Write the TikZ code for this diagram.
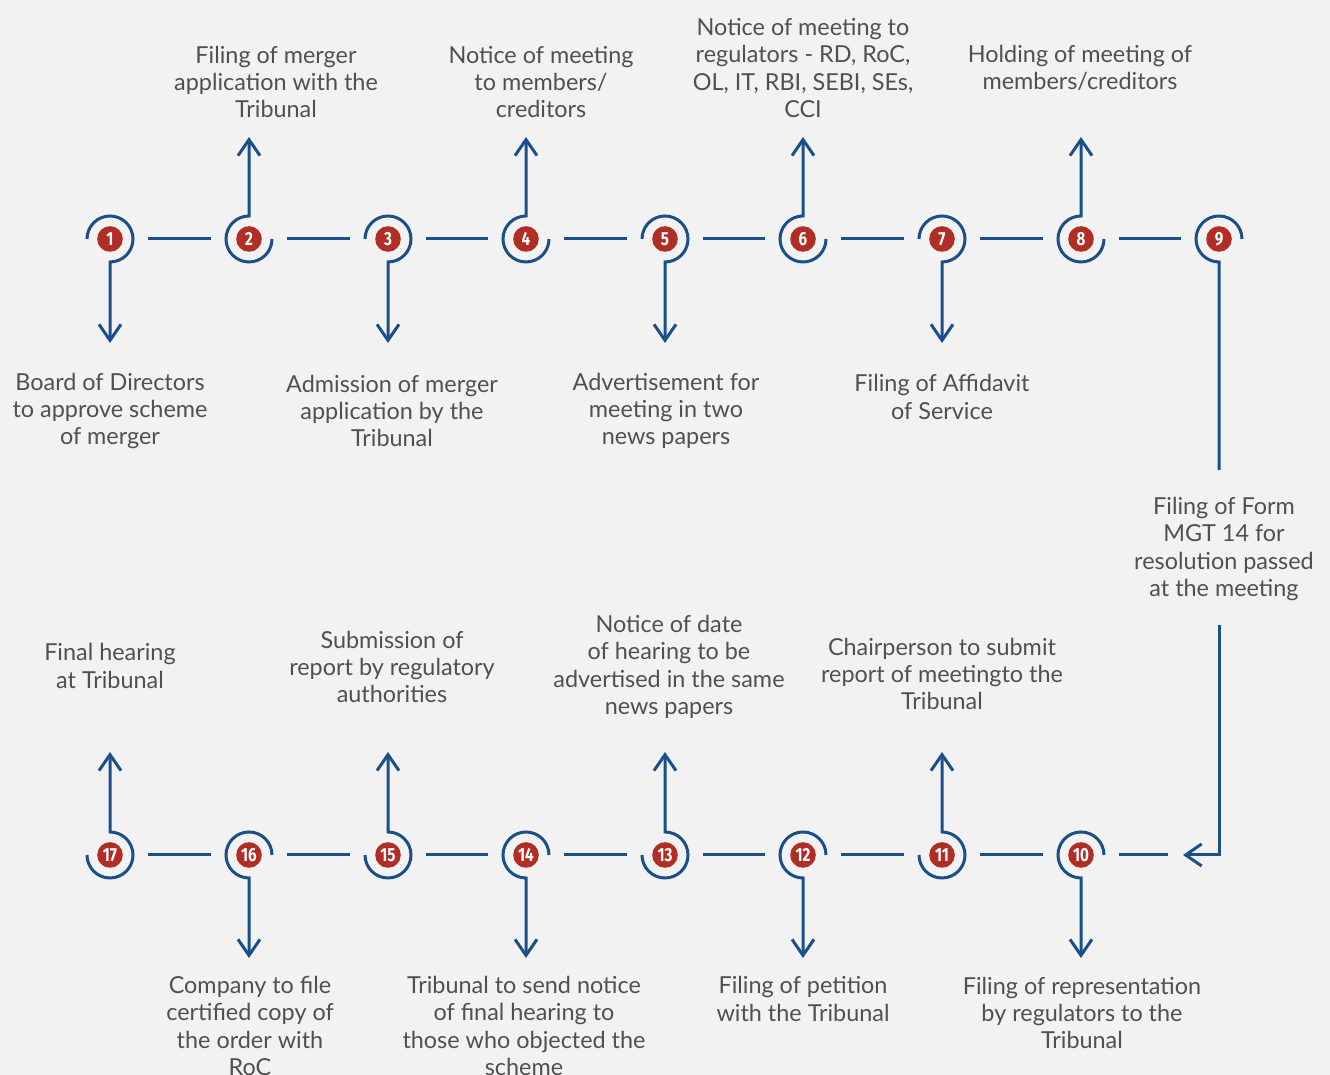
\documentclass[tikz,border=0pt]{standalone}
\usepackage{fontspec}
\setmainfont{Lato}
\newfontfamily\numfont{Fira Sans}[FakeStretch=0.8]
\usetikzlibrary{calc}
\usetikzlibrary{arrows.meta}
\definecolor{lineblue}{HTML}{1B4F8A}
\definecolor{numred}{HTML}{B02E25}
\definecolor{paper}{HTML}{F2F2F2}
\definecolor{txtgray}{HTML}{505050}
\tikzset{
  ring/.style={circle, minimum size=23pt, inner sep=0pt, outer sep=0pt, fill=paper, text=white,
    font=\numfont\bfseries\fontsize{9.5}{9.5}\selectfont,
    path picture={\fill[numred] (path picture bounding box.center) circle (6.4pt);}},
  wire/.style={line width=1.5pt, draw=lineblue},
  link/.style={wire, shorten <=7.5pt, shorten >=7.5pt},
  leg/.style={wire, -{Straight Barb[length=8pt,width=11pt]}},
  lbl/.style={align=center, text=txtgray, inner sep=0pt, font=\fontsize{11.7}{13.6}\selectfont}
}

\begin{document}
\begin{tikzpicture}[x=0.5pt,y=0.5pt]
    \fill[paper] (0,0) rectangle (1330,1075);
    \useasboundingbox (0,0) rectangle (1330,1075);
    % arrow tip levels
    \coordinate (tipA) at (0,732);
    \coordinate (tipB) at (0,938);
    \coordinate (tipC) at (0,323);
    \coordinate (tipD) at (0,117);
    \coordinate (brk1) at (0,605);
    \coordinate (brk2) at (0,450);
    \coordinate (j10) at (1183,220);
    % steps, top row
    \node[ring] (n1) at (110,836) {1};
    \node[ring] (n2) at (249,836) {2};
    \node[ring] (n3) at (388,836) {3};
    \node[ring] (n4) at (526,836) {4};
    \node[ring] (n5) at (665,836) {5};
    \node[ring] (n6) at (803,836) {6};
    \node[ring] (n7) at (942,836) {7};
    \node[ring] (n8) at (1081,836) {8};
    \node[ring] (n9) at (1219,836) {9};
    % steps, bottom row
    \node[ring] (n10) at (1081,220) {10};
    \node[ring] (n11) at (942,220) {11};
    \node[ring] (n12) at (803,220) {12};
    \node[ring] (n13) at (665,220) {13};
    \node[ring] (n14) at (526,220) {14};
    \node[ring] (n15) at (388,220) {15};
    \node[ring] (n16) at (249,220) {16};
    \node[ring] (n17) at (110,220) {17};
    % labels
    \node[lbl] (t1) at (110,664) {Board of Directors\\to approve scheme\\of merger};
    \node[lbl] (t2) at (276,993) {Filing of merger\\application with the\\Tribunal};
    \node[lbl] (t3) at (392,664) {Admission of merger\\application by the\\Tribunal};
    \node[lbl] (t4) at (541,993) {Notice of meeting\\to members/\\creditors};
    \node[lbl] (t5) at (666,664) {Advertisement for\\meeting in two\\news papers};
    \node[lbl] (t6) at (803,1007) {Notice of meeting to\\regulators - RD, RoC,\\OL, IT, RBI, SEBI, SEs,\\CCI};
    \node[lbl] (t7) at (942,678) {Filing of Affidavit\\of Service};
    \node[lbl] (t8) at (1080,1007) {Holding of meeting of\\members/creditors};
    \node[lbl] (t9) at (1224,526) {Filing of Form\\MGT 14 for\\resolution passed\\at the meeting};
    \node[lbl] (t10) at (1082,62) {Filing of representation\\by regulators to the\\Tribunal};
    \node[lbl] (t11) at (942,401) {Chairperson to submit\\report of meetingto the\\Tribunal};
    \node[lbl] (t12) at (803,76) {Filing of petition\\with the Tribunal};
    \node[lbl] (t13) at (669,408) {Notice of date\\of hearing to be\\advertised in the same\\news papers};
    \node[lbl] (t14) at (524,49) {Tribunal to send notice\\of final hearing to\\those who objected the\\scheme};
    \node[lbl] (t15) at (392,408) {Submission of\\report by regulatory\\authorities};
    \node[lbl] (t16) at (250,49) {Company to file\\certified copy of\\the order with\\RoC};
    \node[lbl] (t17) at (110,409) {Final hearing\\at Tribunal};
    % links
    \draw[link] (n1) -- (n2);
    \draw[link] (n2) -- (n3);
    \draw[link] (n3) -- (n4);
    \draw[link] (n4) -- (n5);
    \draw[link] (n5) -- (n6);
    \draw[link] (n6) -- (n7);
    \draw[link] (n7) -- (n8);
    \draw[link] (n8) -- (n9);
    \draw[link] (n10.east) -- (j10);
    \draw[link] (n10) -- (n11);
    \draw[link] (n11) -- (n12);
    \draw[link] (n12) -- (n13);
    \draw[link] (n13) -- (n14);
    \draw[link] (n14) -- (n15);
    \draw[link] (n15) -- (n16);
    \draw[link] (n16) -- (n17);
    % rings with legs, top row
    \draw[leg] (n1.west) arc[start angle=180, end angle=-90, radius=11.5pt] -- (n1 |- tipA);
    \draw[leg] (n2.east) arc[start angle=0, end angle=-270, radius=11.5pt] -- (n2 |- tipB);
    \draw[leg] (n3.west) arc[start angle=180, end angle=-90, radius=11.5pt] -- (n3 |- tipA);
    \draw[leg] (n4.east) arc[start angle=0, end angle=-270, radius=11.5pt] -- (n4 |- tipB);
    \draw[leg] (n5.west) arc[start angle=180, end angle=-90, radius=11.5pt] -- (n5 |- tipA);
    \draw[leg] (n6.east) arc[start angle=0, end angle=-270, radius=11.5pt] -- (n6 |- tipB);
    \draw[leg] (n7.west) arc[start angle=180, end angle=-90, radius=11.5pt] -- (n7 |- tipA);
    \draw[leg] (n8.east) arc[start angle=0, end angle=-270, radius=11.5pt] -- (n8 |- tipB);
    % step 9 turns down to the bottom row
    \draw[wire] (n9.east) arc[start angle=0, end angle=270, radius=11.5pt] -- (n9 |- brk1);
    \draw[leg] (n9 |- brk2) -- (n9 |- j10) -- (j10);
    % rings with legs, bottom row
    \draw[leg] (n10.east) arc[start angle=0, end angle=270, radius=11.5pt] -- (n10 |- tipD);
    \draw[leg] (n11.west) arc[start angle=180, end angle=450, radius=11.5pt] -- (n11 |- tipC);
    \draw[leg] (n12.east) arc[start angle=0, end angle=270, radius=11.5pt] -- (n12 |- tipD);
    \draw[leg] (n13.west) arc[start angle=180, end angle=450, radius=11.5pt] -- (n13 |- tipC);
    \draw[leg] (n14.east) arc[start angle=0, end angle=270, radius=11.5pt] -- (n14 |- tipD);
    \draw[leg] (n15.west) arc[start angle=180, end angle=450, radius=11.5pt] -- (n15 |- tipC);
    \draw[leg] (n16.east) arc[start angle=0, end angle=270, radius=11.5pt] -- (n16 |- tipD);
    \draw[leg] (n17.west) arc[start angle=180, end angle=450, radius=11.5pt] -- (n17 |- tipC);
\end{tikzpicture}
\end{document}
